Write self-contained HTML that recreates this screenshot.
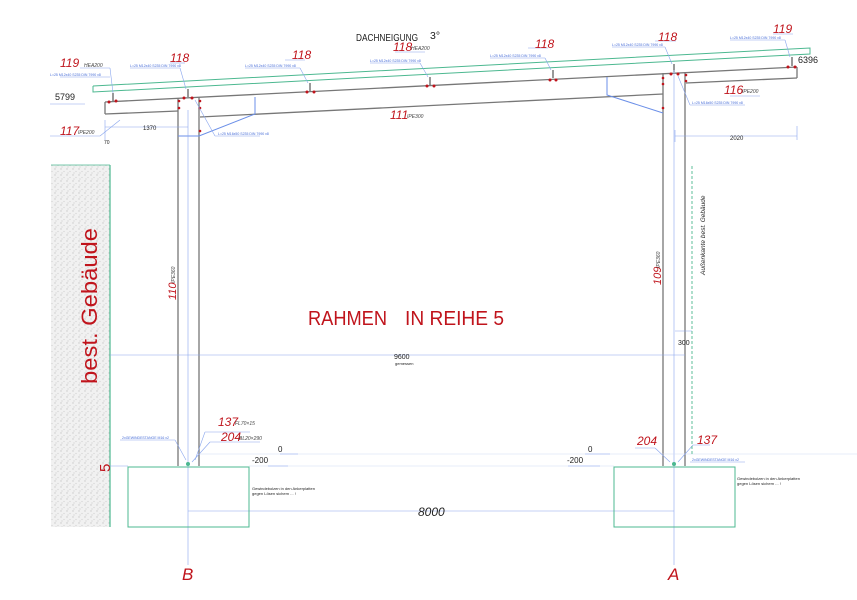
<!DOCTYPE html>
<html><head><meta charset="utf-8"><style>
html,body{margin:0;padding:0;background:#fff;}
svg{display:block;font-family:"Liberation Sans",sans-serif;}
.r{fill:#c0141c;font-style:italic;}
.b{fill:#4a6fd8;font-size:3.5px;}
.k{fill:#222;}
</style></head><body>
<svg width="857" height="600" viewBox="0 0 857 600" xmlns="http://www.w3.org/2000/svg">
<defs>
<pattern id="h" width="6" height="6" patternUnits="userSpaceOnUse">
<rect width="6" height="6" fill="#f1f1f1"/><circle cx="1" cy="1" r="0.7" fill="#c8c8c8"/><circle cx="4" cy="3.5" r="0.6" fill="#d0d0d0"/><circle cx="2" cy="5" r="0.5" fill="#bbb"/>
</pattern>
</defs>
<rect x="51" y="165" width="59" height="362" fill="url(#h)"/>
<line x1="110" y1="165" x2="110" y2="527" stroke="#4cb890" stroke-width="1.2"/>
<line x1="51" y1="165" x2="110" y2="165" stroke="#4cb890" stroke-width="0.8"/>
<text transform="translate(97,384) rotate(-90)" font-size="22" fill="#c0141c" textLength="156" lengthAdjust="spacingAndGlyphs">best.  Gebäude</text>
<text x="98" y="472" class="r" font-size="15" transform="rotate(-90 104 466)" style="font-style:normal">5</text>

<polyline points="93,86 810,48 810,54 93,92 93,86" fill="none" stroke="#4cb890" stroke-width="1"/>
<g stroke="#777" stroke-width="1.3" fill="none">
<line x1="105" y1="102" x2="797" y2="67"/>
<line x1="105" y1="114" x2="178" y2="111"/>
<line x1="105" y1="102" x2="105" y2="114"/>
<line x1="200" y1="117" x2="663" y2="94"/>
<line x1="686" y1="83" x2="797" y2="78"/>
<line x1="797" y1="67" x2="797" y2="78"/>
<line x1="178" y1="98" x2="178" y2="466"/>
<line x1="199" y1="97" x2="199" y2="466"/>
<line x1="663" y1="73" x2="663" y2="466"/>
<line x1="685" y1="72" x2="685" y2="466"/>
</g>
<g stroke="#333" stroke-width="1">
<line x1="113" y1="93" x2="113" y2="101"/><line x1="188" y1="89" x2="188" y2="97"/>
<line x1="310" y1="83" x2="310" y2="91"/><line x1="430" y1="77" x2="430" y2="85"/>
<line x1="553" y1="70" x2="553" y2="78"/><line x1="674" y1="64" x2="674" y2="72"/>
<line x1="792" y1="57" x2="792" y2="66"/>
</g>
<g fill="#c0141c">
<circle cx="109" cy="102" r="1.5"/><circle cx="116" cy="101" r="1.5"/>
<circle cx="184" cy="98" r="1.5"/><circle cx="192" cy="98" r="1.5"/>
<circle cx="179" cy="101" r="1.3"/><circle cx="179" cy="108" r="1.3"/><circle cx="200" cy="101" r="1.3"/><circle cx="200" cy="108" r="1.3"/><circle cx="200" cy="131" r="1.3"/>
<circle cx="307" cy="92" r="1.5"/><circle cx="314" cy="92" r="1.5"/>
<circle cx="427" cy="86" r="1.5"/><circle cx="434" cy="86" r="1.5"/>
<circle cx="550" cy="80" r="1.5"/><circle cx="556" cy="80" r="1.5"/>
<circle cx="671" cy="74" r="1.5"/><circle cx="678" cy="74" r="1.5"/>
<circle cx="663" cy="78" r="1.3"/><circle cx="663" cy="84" r="1.3"/><circle cx="686" cy="75" r="1.3"/><circle cx="686" cy="81" r="1.3"/><circle cx="663" cy="108" r="1.3"/>
<circle cx="788" cy="67" r="1.5"/><circle cx="795" cy="67" r="1.5"/>
</g>
<g stroke="#6b8fe8" stroke-width="1" fill="none">
<polyline points="255,97 255,114 199,136 178,136"/>
<polyline points="607,77 607,95 663,113"/>
</g>
<g stroke="#8aa6ee" stroke-width="0.6" fill="none">
<line x1="105" y1="127" x2="188" y2="127"/><line x1="105" y1="120" x2="105" y2="140"/>
<line x1="675" y1="136" x2="797" y2="136"/><line x1="797" y1="126" x2="797" y2="140"/><line x1="675" y1="130" x2="675" y2="142"/>
<line x1="110" y1="355" x2="685" y2="355"/>
<line x1="675" y1="331" x2="692" y2="331"/>
<line x1="188" y1="511" x2="674" y2="511"/>
<line x1="188" y1="110" x2="188" y2="565"/><line x1="674" y1="70" x2="674" y2="565"/>
<line x1="110" y1="466" x2="128" y2="466"/>
<line x1="199" y1="454" x2="857" y2="454" stroke="#cfdaf6"/>
<line x1="249" y1="466" x2="614" y2="466" stroke="#cfdaf6"/>
<line x1="60" y1="77" x2="110" y2="77"/><line x1="50" y1="104" x2="85" y2="104"/><line x1="50" y1="136" x2="100" y2="136"/>
<line x1="100" y1="136" x2="120" y2="120"/><line x1="80" y1="68" x2="110" y2="68"/><line x1="110" y1="68" x2="113" y2="93"/>
<line x1="130" y1="68" x2="180" y2="68"/><line x1="180" y1="68" x2="186" y2="89"/><line x1="170" y1="63" x2="185" y2="63"/>
<line x1="245" y1="68" x2="300" y2="68"/><line x1="300" y1="68" x2="308" y2="83"/><line x1="285" y1="60" x2="305" y2="60"/>
<line x1="370" y1="63" x2="420" y2="63"/><line x1="420" y1="63" x2="428" y2="77"/><line x1="395" y1="52" x2="425" y2="52"/>
<line x1="490" y1="58" x2="545" y2="58"/><line x1="545" y1="58" x2="551" y2="70"/><line x1="528" y1="48" x2="548" y2="48"/>
<line x1="612" y1="47" x2="665" y2="47"/><line x1="665" y1="47" x2="672" y2="64"/><line x1="655" y1="41" x2="676" y2="41"/>
<line x1="730" y1="40" x2="785" y2="40"/><line x1="785" y1="40" x2="790" y2="57"/><line x1="773" y1="34" x2="793" y2="34"/>
<line x1="215" y1="136" x2="260" y2="136"/><line x1="215" y1="136" x2="195" y2="100"/>
<line x1="690" y1="105" x2="745" y2="105"/><line x1="690" y1="105" x2="678" y2="76"/>
<line x1="730" y1="96" x2="760" y2="96"/>
<line x1="205" y1="432" x2="250" y2="432"/><line x1="205" y1="432" x2="195" y2="460"/>
<line x1="210" y1="442" x2="260" y2="442"/><line x1="210" y1="442" x2="192" y2="462"/>
<line x1="120" y1="440" x2="175" y2="440"/><line x1="175" y1="440" x2="186" y2="460"/>
<line x1="635" y1="448" x2="655" y2="448"/><line x1="655" y1="448" x2="670" y2="462"/>
<line x1="693" y1="445" x2="710" y2="445"/><line x1="693" y1="445" x2="678" y2="462"/>
<line x1="690" y1="462" x2="745" y2="462"/>
<line x1="280" y1="454" x2="298" y2="454"/><line x1="268" y1="466" x2="288" y2="466"/>
<line x1="585" y1="454" x2="610" y2="454"/><line x1="568" y1="466" x2="600" y2="466"/>
</g>
<line x1="692" y1="166" x2="692" y2="455" stroke="#4cb890" stroke-width="0.9" stroke-dasharray="3,2"/>
<rect x="128" y="467" width="121" height="60" fill="none" stroke="#4cb890" stroke-width="1"/>
<rect x="614" y="467" width="121" height="60" fill="none" stroke="#4cb890" stroke-width="1"/>
<circle cx="188" cy="464" r="2" fill="#4cb890"/><circle cx="674" cy="464" r="2" fill="#4cb890"/>
<text x="356" y="41" font-size="10.5" class="k" textLength="62" lengthAdjust="spacingAndGlyphs">DACHNEIGUNG</text><text x="430" y="39" font-size="10.5" class="k">3°</text>
<text x="308" y="325" font-size="20" fill="#c0141c" textLength="79" lengthAdjust="spacingAndGlyphs">RAHMEN</text>
<text x="405" y="325" font-size="20" fill="#c0141c" textLength="99" lengthAdjust="spacingAndGlyphs">IN REIHE 5</text>
<text x="60" y="67" class="r" font-size="12">119</text><text x="84" y="67" font-size="5" fill="#444" font-style="italic">HEA200</text>
<text x="170" y="62" class="r" font-size="12">118</text>
<text x="292" y="59" class="r" font-size="12">118</text>
<text x="393" y="51" class="r" font-size="12">118</text><text x="411" y="50" font-size="5" fill="#444" font-style="italic">HEA200</text>
<text x="535" y="48" class="r" font-size="12">118</text>
<text x="658" y="41" class="r" font-size="12">118</text>
<text x="773" y="33" class="r" font-size="12">119</text>
<text x="390" y="119" class="r" font-size="12">111</text><text x="407" y="118" font-size="5" fill="#444" font-style="italic">IPE300</text>
<text x="60" y="135" class="r" font-size="12">117</text><text x="78" y="134" font-size="5" fill="#444" font-style="italic">IPE200</text>
<text x="724" y="94" class="r" font-size="12">116</text><text x="742" y="93" font-size="5" fill="#444" font-style="italic">IPE200</text>
<text x="55" y="100" font-size="9" class="k">5799</text>
<text x="798" y="63" font-size="9" class="k">6396</text>
<text x="143" y="130" font-size="6" class="k">1370</text>
<text x="104" y="144" font-size="5" class="k">70</text>
<text x="730" y="140" font-size="6" class="k">2020</text>
<text x="678" y="345" font-size="7" class="k">300</text>
<text x="394" y="359" font-size="7" class="k">9600</text>
<text x="395" y="365" font-size="4" class="k">gemessen</text>
<text x="418" y="516" font-size="12" class="k" font-style="italic">8000</text>
<text x="278" y="452" font-size="8" class="k">0</text><text x="252" y="463" font-size="8" class="k">-200</text>
<text x="588" y="452" font-size="8" class="k">0</text><text x="567" y="463" font-size="8" class="k">-200</text>
<text x="218" y="426" class="r" font-size="12">137</text><text x="235" y="425" font-size="5" fill="#444" font-style="italic">FL70×15</text>
<text x="221" y="441" class="r" font-size="12">204</text><text x="239" y="440" font-size="5" fill="#444" font-style="italic">BL20×290</text>
<text x="637" y="445" class="r" font-size="12">204</text>
<text x="697" y="444" class="r" font-size="12">137</text>
<text x="182" y="580" class="r" font-size="17">B</text>
<text x="668" y="580" class="r" font-size="17">A</text>
<text x="252" y="490" font-size="4" class="k">Gewindebolzen in den Ankerplatten</text>
<text x="252" y="495" font-size="4" class="k">gegen Lösen sichern ... !</text>
<text x="737" y="480" font-size="4" class="k">Gewindebolzen in den Ankerplatten</text>
<text x="737" y="485" font-size="4" class="k">gegen Lösen sichern ... !</text>
<text transform="translate(176,300) rotate(-90)" class="r" font-size="11">110</text>
<text transform="translate(175,283) rotate(-90)" font-size="5" fill="#444" font-style="italic">IPE360</text>
<text transform="translate(661,285) rotate(-90)" class="r" font-size="11">109</text>
<text transform="translate(660,268) rotate(-90)" font-size="5" fill="#444" font-style="italic">IPE360</text>
<text transform="translate(705,275) rotate(-90)" font-size="6.5" class="k" font-style="italic">Außenkante best. Gebäude</text>
<text x="50" y="76" class="b">L=25 M12x40 S235 DIN 7990 x8</text>
<text x="130" y="67" class="b">L=25 M12x40 S235 DIN 7990 x8</text>
<text x="245" y="67" class="b">L=25 M12x40 S235 DIN 7990 x8</text>
<text x="370" y="62" class="b">L=25 M12x40 S235 DIN 7990 x8</text>
<text x="490" y="57" class="b">L=25 M12x40 S235 DIN 7990 x8</text>
<text x="612" y="46" class="b">L=25 M12x40 S235 DIN 7990 x8</text>
<text x="730" y="39" class="b">L=25 M12x40 S235 DIN 7990 x8</text>
<text x="218" y="135" class="b">L=25 M16x50 S235 DIN 7990 x8</text>
<text x="692" y="104" class="b">L=25 M16x50 S235 DIN 7990 x8</text>
<text x="122" y="439" class="b">2xGEWINDESTANGE M16 x2</text>
<text x="692" y="461" class="b">2xGEWINDESTANGE M16 x2</text>
</svg>
</body></html>
